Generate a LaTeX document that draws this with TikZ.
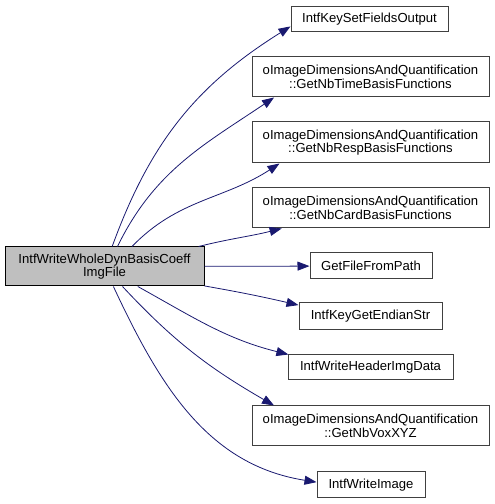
\documentclass[tikz,border=0pt]{standalone}
\usepackage{fontspec}
\setmainfont{Liberation Sans}
\usetikzlibrary{arrows.meta}
\definecolor{callblue}{HTML}{191970}
\definecolor{mainfill}{HTML}{BFBFBF}

\begin{document}
\begin{tikzpicture}[x=1pt,y=1pt,font=\fontsize{13.1}{13.4}\selectfont]
        \useasboundingbox (0,0) rectangle (495,504);

        \begin{scope}[every node/.style={draw=black!75,line width=1pt,align=center,inner sep=0pt}]
          \node[fill=mainfill,draw=black,minimum width=199pt,minimum height=39pt] (main) at (104.5,237.5) {IntfWriteWholeDynBasisCoeff\\ImgFile};
          \node[minimum width=157pt,minimum height=25pt] (keyset)  at (369.5,484.5) {IntfKeySetFieldsOutput};
          \node[minimum width=237pt,minimum height=40pt] (nbtime)  at (370.5,427)   {oImageDimensionsAndQuantification\\::GetNbTimeBasisFunctions};
          \node[minimum width=237pt,minimum height=41pt] (nbresp)  at (370.5,361.5) {oImageDimensionsAndQuantification\\::GetNbRespBasisFunctions};
          \node[minimum width=237pt,minimum height=40pt] (nbcard)  at (370.5,296)   {oImageDimensionsAndQuantification\\::GetNbCardBasisFunctions};
          \node[minimum width=122pt,minimum height=26pt] (filepath) at (371,238)    {GetFileFromPath};
          \node[minimum width=143pt,minimum height=27pt] (endian)  at (370.5,187.5) {IntfKeyGetEndianStr};
          \node[minimum width=165pt,minimum height=25pt] (header)  at (370.5,136.5) {IntfWriteHeaderImgData};
          \node[minimum width=237pt,minimum height=40pt] (nbvox)   at (370.5,78)    {oImageDimensionsAndQuantification\\::GetNbVoxXYZ};
          \node[minimum width=108pt,minimum height=26pt] (image)   at (371,19)      {IntfWriteImage};
        \end{scope}

        \begin{scope}[every edge/.style={draw=callblue,line width=0.8pt,-{Triangle[length=12pt,width=9pt]}}]
          \path (main.69)  edge[out=70,in=212]  (keyset.185);
          \path (main.57)  edge[out=64,in=214]  (nbtime.192);
          \path (main.36)  edge[out=46,in=213]  (nbresp.193);
          \path (main.12)  edge[out=14,in=194]  (nbcard.193);
          \path (main)     edge                 (filepath);
          \path (main.-11) edge[out=-10,in=167] (endian.171);
          \path (main.-31) edge[out=-29,in=166] (header.171);
          \path (main.-48) edge[out=-47,in=150] (nbvox.168);
          \path (main.-66) edge[out=-65,in=171] (image.177);
        \end{scope}

      \end{tikzpicture}
\end{document}
